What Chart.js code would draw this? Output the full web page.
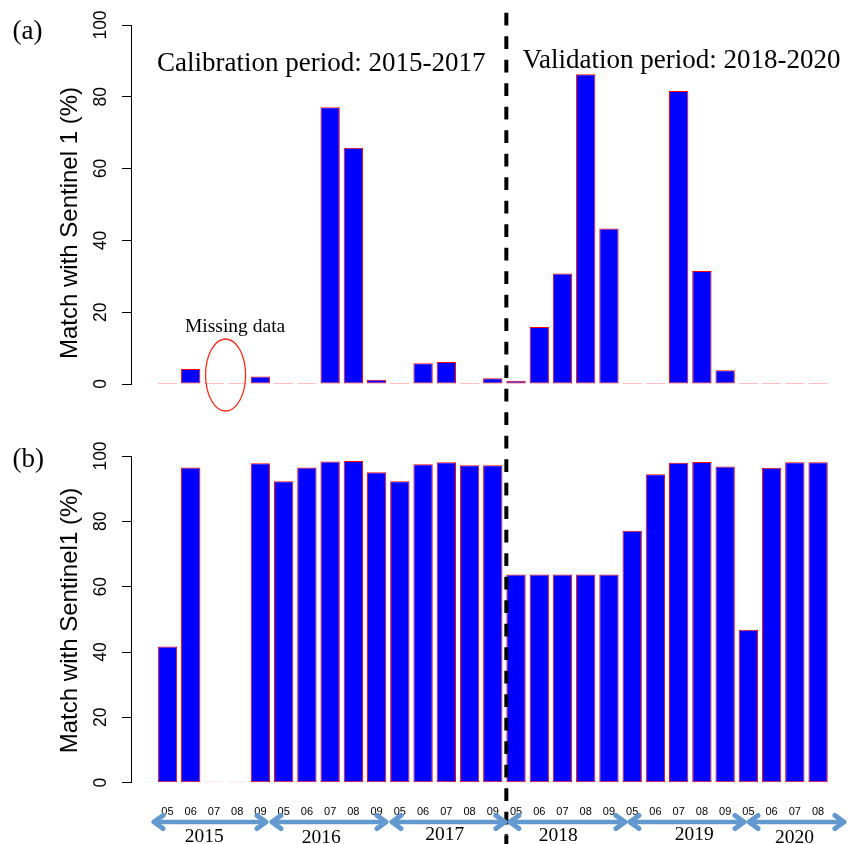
<!DOCTYPE html>
<html><head><meta charset="utf-8">
<script src="https://cdn.jsdelivr.net/npm/chart.js@4"></script>
<style>
html,body{margin:0;padding:0;background:#fff;overflow:hidden;width:851px;height:844px;}
canvas{position:absolute;left:0;}
#ca{top:0px}
#cb{top:420px}
</style></head><body>
<canvas id="ca" width="851" height="420"></canvas>
<canvas id="cb" width="851" height="424"></canvas>
<script>
// ---- data ----
const months = ['05','06','07','08','09','05','06','07','08','09','05','06','07','08','09',
                '05','06','07','08','09','05','06','07','08','09','05','06','07','08'];
const years = ['2015','2016','2017','2018','2019','2020'];
const matchA = [0, 4.2, 0, 0, 2.1, 0.3, 0.3, 77.1, 65.8, 1.2, 0.3, 5.8, 6.1, 0, 1.6,
                0.9, 15.9, 30.8, 86.3, 43.3, 0, 0, 81.6, 31.5, 3.8, 0, 0, 0, 0];
const matchB = [41.7, 96.5, 0, 0, 97.8, 92.3, 96.5, 98.3, 98.5, 95.0, 92.3, 97.5, 98.1, 97.2, 97.2,
                63.7, 63.7, 63.7, 63.7, 63.7, 77.1, 94.4, 97.9, 98.2, 96.8, 46.8, 96.4, 98.1, 98.1];
const yTicks = [0, 20, 40, 60, 80, 100];
const titleA = 'Match with Sentinel 1 (%)';
const titleB = 'Match with Sentinel1 (%)';
const calibText = 'Calibration period: 2015-2017';
const validText = 'Validation period: 2018-2020';
const missingText = 'Missing data';
// year arrow spans and label centres (in bar-axis units)
const yearSpans = [[-0.10, 5.89], [5.99, 12.09], [12.19, 18.23], [18.28, 24.43], [24.48, 30.58], [30.63, 35.74]];
const yearLabelX = [2.60, 8.64, 15.02, 20.88, 27.90, 33.08];
const yearBaseline = [842, 843, 840, 840.5, 840, 842.5];
const splitAt = 18.2;
const missingAt = 3.7;

const barPos = i => 0.7 + 1.2 * i;   // barplot midpoints
const SERIF = '"Liberation Serif","Times New Roman",serif';
const SANS = '"Liberation Sans",Arial,sans-serif';

function drawYTitle(ctx, text, x, y) {
  ctx.save();
  ctx.translate(x, y);
  ctx.rotate(-Math.PI / 2);
  ctx.font = '24px ' + SANS;
  ctx.fillStyle = '#000';
  ctx.textAlign = 'center';
  ctx.textBaseline = 'alphabetic';
  ctx.fillText(text, 0, 0);
  ctx.restore();
}

function drawArrow(ctx, x1, x2, y) {
  ctx.save();
  ctx.strokeStyle = '#6399cf';
  ctx.lineCap = 'round';
  ctx.lineJoin = 'round';
  ctx.lineWidth = 4.3;
  ctx.beginPath();
  ctx.moveTo(x1 + 2, y); ctx.lineTo(x2 - 2, y);
  ctx.stroke();
  ctx.lineWidth = 5;
  ctx.beginPath();
  ctx.moveTo(x1 + 11, y - 6.5); ctx.lineTo(x1 + 2, y); ctx.lineTo(x1 + 11, y + 6.5);
  ctx.moveTo(x2 - 11, y - 6.5); ctx.lineTo(x2 - 2, y); ctx.lineTo(x2 - 11, y + 6.5);
  ctx.stroke();
  ctx.restore();
}

function makeArt(panel) {
  return {
    id: 'art' + panel,
    afterDatasetsDraw(chart) {
      const ctx = chart.ctx;
      const xd = chart.scales.x.getPixelForValue(splitAt);
      ctx.save();
      ctx.strokeStyle = '#000';
      ctx.lineWidth = 4;
      ctx.setLineDash([12.7, 10.8]);
      if (panel === 'a') {
        ctx.lineDashOffset = 0;
        ctx.beginPath(); ctx.moveTo(xd, 12.8); ctx.lineTo(xd, chart.height); ctx.stroke();
      } else {
        ctx.lineDashOffset = 7.7;
        ctx.beginPath(); ctx.moveTo(xd, 0); ctx.lineTo(xd, chart.height); ctx.stroke();
      }
      ctx.restore();
    },
    afterDraw(chart) {
      const ctx = chart.ctx;
      const xs = chart.scales.x, ys = chart.scales.y;
      ctx.save();
      ctx.fillStyle = '#000';
      ctx.textBaseline = 'alphabetic';
      if (panel === 'a') {
        ctx.font = '27px ' + SERIF;
        ctx.textAlign = 'left';
        ctx.fillText('(a)', 12.5, 38.5);
        ctx.fillText(calibText, 157, 70.5);
        ctx.fillText(validText, 522.5, 67.5);
        ctx.font = '19.5px ' + SERIF;
        ctx.fillText(missingText, 185, 332);
        drawYTitle(ctx, titleA, 76.5, 223);
        // ellipse around missing months
        ctx.strokeStyle = '#ff2a1a';
        ctx.lineWidth = 1.3;
        ctx.beginPath();
        ctx.ellipse(xs.getPixelForValue(missingAt), ys.getPixelForValue(0) - 9, 20, 36, 0, 0, Math.PI * 2);
        ctx.stroke();
      } else {
        ctx.font = '27px ' + SERIF;
        ctx.textAlign = 'left';
        ctx.fillText('(b)', 12.5, 467 - 420);
        drawYTitle(ctx, titleB, 76.5, 620.5 - 420);
        // year arrows
        yearSpans.forEach(s => drawArrow(ctx, xs.getPixelForValue(s[0]), xs.getPixelForValue(s[1]), 822 - 420));
        ctx.fillStyle = '#000';
        ctx.font = '19.5px ' + SERIF;
        ctx.textAlign = 'center';
        years.forEach((yr, i) => ctx.fillText(yr, xs.getPixelForValue(yearLabelX[i]), yearBaseline[i] - 420));
        ctx.font = '12px ' + SERIF;
        ctx.fillText('-', xs.getPixelForValue(splitAt), 838 - 420);
      }
      ctx.restore();
    }
  };
}

function makeChart(id, values, panel, pad) {
  return new Chart(document.getElementById(id), {
    type: 'bar',
    data: {
      datasets: [{
        data: values.map((v, i) => ({ x: barPos(i), y: v })),
        backgroundColor: '#0000ff',
        borderColor: '#ff0000',
        borderWidth: 1,
        borderSkipped: false,
        minBarLength: 1,
        barPercentage: 1 / 1.2,
        categoryPercentage: 1
      }]
    },
    options: {
      responsive: false,
      animation: false,
      devicePixelRatio: 1,
      layout: { padding: { left: 0, right: 0, top: pad.top, bottom: pad.bottom } },
      plugins: { legend: { display: false }, tooltip: { enabled: false } },
      scales: {
        x: {
          type: 'linear',
          min: -1.184,
          max: 36.0,
          offset: false,
          display: panel === 'b',
          grid: { display: false, drawTicks: false, offset: false },
          border: { display: false },
          afterBuildTicks: axis => { axis.ticks = months.map((m, i) => ({ value: barPos(i) })); },
          afterFit: axis => { axis.height = (panel === 'b') ? 61.3 : 0; },
          ticks: {
            autoSkip: false,
            maxRotation: 0,
            minRotation: 0,
            padding: 22.3,
            color: '#000',
            font: { family: SANS, size: 11 },
            callback: (v, i) => months[i]
          }
        },
        y: {
          min: 0,
          max: 100,
          afterBuildTicks: axis => { axis.ticks = yTicks.map(v => ({ value: v })); },
          afterFit: axis => { axis.width = 131; },
          grid: { drawOnChartArea: false, color: '#000', tickLength: 9, lineWidth: 1 },
          border: { display: true, color: '#000', width: 1 },
          ticks: {
            minRotation: 90,
            maxRotation: 90,
            crossAlign: 'center',
            padding: 6.4,
            color: '#000',
            font: { family: SANS, size: 17.5 }
          }
        }
      }
    },
    plugins: [makeArt(panel)]
  });
}

makeChart('ca', matchA, 'a', { top: 25, bottom: 36 });
makeChart('cb', matchB, 'b', { top: 36, bottom: 0 });
</script>
</body></html>
